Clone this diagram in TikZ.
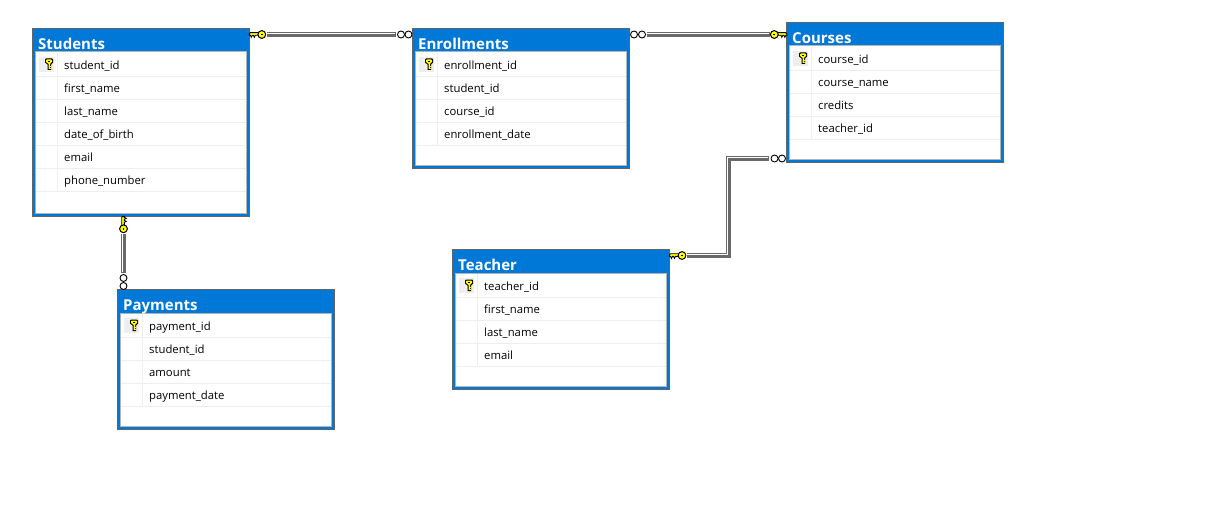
\documentclass[tikz,border=0pt]{standalone}
\usepackage{fontspec}
\setmainfont{Open Sans}
\definecolor{hdr}{HTML}{0078D7}
\definecolor{edge}{HTML}{646464}
\definecolor{panel}{HTML}{B4B4B4}
\definecolor{sep}{HTML}{EEEEEE}
\definecolor{rel}{HTML}{696969}
\definecolor{keyy}{HTML}{FFFF00}
\tikzset{
  tablebox/.style={draw=none,fill=hdr,minimum width=218pt,inner sep=0pt,outer sep=0pt,rectangle},
  titletext/.style={anchor=base west,inner sep=0pt,text=white,font=\fontsize{15}{15}\selectfont\bfseries},
  rowtext/.style={anchor=base west,inner sep=0pt,text=black,font=\fontsize{11.3}{12}\selectfont},
  infring/.style={circle,draw=black,fill=white,line width=.9pt,minimum size=7pt,inner sep=0pt},
}
% id, x, y, height, title, rows
\newcommand{\dbtable}[6]{%
  \node[tablebox,minimum height=#4pt,anchor=north west] (#1) at (#2,#3) {};
  \draw[edge,line width=1.3pt] (#2+.65,#3+.65) rectangle (#2+217.35,#3+#4-.65);
  \fill[white] (#2+3.5,#3+24) rectangle (#2+214.5,#3+#4-3.5);
  \draw[panel,line width=1pt] (#2+3.5,#3+#4-3.5) -- (#2+3.5,#3+24) -- (#2+214.5,#3+24) -- (#2+214.5,#3+#4-3.5);
  \draw[panel,line width=1.2pt] (#2+3,#3+#4-3.5) -- (#2+215,#3+#4-3.5);
  \node[titletext] (#1title) at (#2+6,#3+21.5) {#5};
  \fill[sep] (#2+7,#3+29) rectangle (#2+22,#3+44);
  \foreach \r [count=\i from 0] in {#6} {
    \draw[sep,line width=1pt] (#2+4,#3+48.5+23*\i) -- (#2+214,#3+48.5+23*\i);
    \draw[sep,line width=1pt] (#2+25,#3+25+23*\i) -- (#2+25,#3+48+23*\i);
    \node[rowtext] (#1r\i) at (#2+32,#3+41.5+23*\i) {\r};
  }
  \smallkey{#2+17,#3+36.5}
}
\newcommand{\smallkey}[1]{%
  \begin{scope}[shift={(#1)}]
    \fill[black] (-3,-6) -- (3,-6) -- (4,-5) -- (4,-2) -- (2,0) -- (2,5.5) -- (-1.5,5.5) -- (-1.5,0) -- (-4,-2) -- (-4,-5) -- cycle;
    \fill[keyy] (-2.2,-5) -- (2.2,-5) -- (3,-4.2) -- (3,-2.6) -- (1,-.6) -- (1,4.5) -- (-.5,4.5) -- (-.5,-.6) -- (-3,-2.6) -- (-3,-4.2) -- cycle;
    \fill[black] (-.8,-3.8) rectangle (.8,-2.6);
    \fill[keyy] (1,1.2) rectangle (2,2.2);
    \fill[keyy] (1,3.2) rectangle (2,4.2);
  \end{scope}%
}
% name, centre of the bow, transform: key points to +x with teeth towards +y
\newcommand{\bigkey}[3]{%
  \begin{scope}[shift={(#2)},#3]
    \filldraw[fill=keyy,draw=black,line width=.9pt,line join=miter]
      (3,-1.8) -- (11.5,-1.8) -- (12.5,-.8) -- (12.5,.8) -- (11.5,.8) -- (10.5,2.8) -- (9.5,.8) -- (8.5,.8) -- (7.5,2.8) -- (6.5,.8) -- (3,.8) -- cycle;
    \filldraw[fill=keyy,draw=black,line width=1pt] (0,0) circle (3.9pt);
    \fill[black] (-1.1,-.5) rectangle (1.1,.5);
  \end{scope}%
}
\newcommand{\relpath}[1]{%
  \draw[rel,line width=5pt,shorten >=1.5pt] #1;
  \draw[white,line width=1pt,shorten >=1.5pt,transform canvas={xshift=-1pt,yshift=1pt}] #1;
}
\begin{document}
\begin{tikzpicture}[x=1pt,y=-1pt]
\useasboundingbox (0,0) rectangle (1207,519);
\fill[white] (0,0) rectangle (1207,519);

\dbtable{students}{32}{28}{189}{Students}{student\_id,first\_name,last\_name,date\_of\_birth,email,phone\_number}
\dbtable{enrollments}{412}{28}{141}{Enrollments}{enrollment\_id,student\_id,course\_id,enrollment\_date}
\dbtable{courses}{786}{22}{141}{Courses}{course\_id,course\_name,credits,teacher\_id}
\dbtable{teacher}{452}{249}{141}{Teacher}{teacher\_id,first\_name,last\_name,email}
\dbtable{payments}{117}{289}{141}{Payments}{payment\_id,student\_id,amount,payment\_date}

% connector end points
\coordinate (keySE) at (267,34.5);
\coordinate (keySP) at (123.5,233.5);
\coordinate (keyCE) at (769.5,34.5);
\coordinate (keyTC) at (686.5,255.5);
\node[infring] (infES2) at (401,34.5) {};
\node[infring] (infES) at (408.5,34.5) {};
\node[infring] (infEC) at (634,34.5) {};
\node[infring] (infEC2) at (642,34.5) {};
\node[infring] (infCT2) at (774.5,158.5) {};
\node[infring] (infCT) at (782,158.5) {};
\node[infring] (infPS2) at (123.5,278) {};
\node[infring] (infPS) at (123.5,286) {};
\coordinate (bendCT) at (728.5,200);

\relpath{(keySE) -- (infES2.west)}
\relpath{(keyCE) -- (infEC2.east)}
\relpath{(keyTC) -| (bendCT) |- (infCT2.west)}
\relpath{(keySP) -- (infPS2.north)}

\bigkey{keySE2}{261.8,34.5}{xscale=-1}
\bigkey{keyCE2}{774.3,34.5}{}
\bigkey{keyTC2}{682,255.5}{xscale=-1}
\bigkey{keySP2}{123.5,228.8}{rotate=90}
\end{tikzpicture}
\end{document}
